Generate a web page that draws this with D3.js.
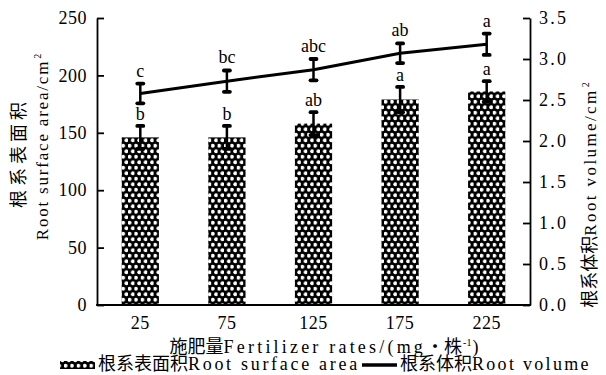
<!DOCTYPE html>
<html>
<head>
<meta charset="utf-8">
<script src="https://cdn.jsdelivr.net/npm/d3@7"></script>
<style>
  html, body { margin: 0; padding: 0; background: #fff; }
  svg { display: block; }
</style>
</head>
<body>
<svg id="chart" width="606" height="375"></svg>
<script>
// Fertilizer rate groups (mg per plant)
const categories = ["25", "75", "125", "175", "225"];
// Root surface area (cm²), bars on left axis
const surfaceArea = [146, 146, 158, 179, 186];
const surfaceErr = [10, 10, 10, 11, 9];
const surfaceLetters = ["b", "b", "ab", "a", "a"];
// Root volume, line on right axis
const volume = [2.58, 2.73, 2.87, 3.07, 3.18];
const volumeErr = [0.12, 0.13, 0.13, 0.12, 0.13];
const volumeLetters = ["c", "bc", "abc", "ab", "a"];
// Axis ticks
const leftTicks = [0, 50, 100, 150, 200, 250];
const rightTicks = [0, 0.5, 1.0, 1.5, 2.0, 2.5, 3.0, 3.5];

const SERIF = "Liberation Serif";
const CJK = "Noto Sans CJK SC";

const svg = d3.select("#chart");
const L = 97, R = 530, T = 18, B = 305;

const x = d3.scaleBand().domain(categories).range([L, R]).padding(0);
const yL = d3.scaleLinear().domain([0, 250]).range([B, T]);
const yR = d3.scaleLinear().domain([0, 3.5]).range([B, T]);
const barW = x.bandwidth() * 0.43;
const cx = d => x(d) + x.bandwidth() / 2;

// dotted fill for the bars
const defs = svg.append("defs");
const pat = defs.append("pattern").attr("id", "dots")
  .attr("patternUnits", "userSpaceOnUse").attr("width", 6.4).attr("height", 11);
pat.append("rect").attr("width", 6.4).attr("height", 11).attr("fill", "#000");
pat.append("circle").attr("cx", 1.6).attr("cy", 2.75).attr("r", 1.9).attr("fill", "#fff");
pat.append("circle").attr("cx", 4.8).attr("cy", 8.25).attr("r", 1.9).attr("fill", "#fff");

// bars
svg.append("g").selectAll("rect").data(categories).join("rect")
  .attr("x", d => cx(d) - barW / 2)
  .attr("y", (d, i) => yL(surfaceArea[i]))
  .attr("width", barW)
  .attr("height", (d, i) => B - yL(surfaceArea[i]))
  .attr("fill", "url(#dots)");

// error bar helper
function errBar(g, xc, yTop, yBot) {
  g.append("line").attr("x1", xc).attr("x2", xc).attr("y1", yTop).attr("y2", yBot)
    .attr("stroke", "#000").attr("stroke-width", 2.5);
  [yTop, yBot].forEach(yy => {
    g.append("line").attr("x1", xc - 3).attr("x2", xc + 3).attr("y1", yy).attr("y2", yy)
      .attr("stroke", "#000").attr("stroke-width", 3.8).attr("stroke-linecap", "round");
  });
}

const gErr = svg.append("g");
categories.forEach((c, i) => {
  errBar(gErr, cx(c), yL(surfaceArea[i] + surfaceErr[i]), yL(surfaceArea[i] - surfaceErr[i]));
});

// volume line
const line = d3.line().x((d, i) => cx(categories[i])).y(d => yR(d));
svg.append("path").datum(volume).attr("d", line)
  .attr("fill", "none").attr("stroke", "#000").attr("stroke-width", 3);
categories.forEach((c, i) => {
  errBar(gErr, cx(c), yR(volume[i] + volumeErr[i]), yR(volume[i] - volumeErr[i]));
});

// significance letters
const gLet = svg.append("g").attr("font-family", SERIF).attr("font-size", 18).attr("text-anchor", "middle");
categories.forEach((c, i) => {
  gLet.append("text").attr("x", cx(c)).attr("y", yL(surfaceArea[i] + surfaceErr[i]) - 6).text(surfaceLetters[i]);
  gLet.append("text").attr("x", cx(c)).attr("y", yR(volume[i] + volumeErr[i]) - 7).text(volumeLetters[i]);
});

// axes
const axL = d3.axisLeft(yL).tickValues(leftTicks).tickSizeInner(-7).tickSizeOuter(0).tickPadding(10);
const axR = d3.axisRight(yR).tickValues(rightTicks).tickSizeInner(-7).tickSizeOuter(0).tickPadding(9)
  .tickFormat(d3.format(".1f"));
const gL = svg.append("g").attr("transform", `translate(${L},0)`).call(axL);
const gR = svg.append("g").attr("transform", `translate(${R},0)`).call(axR);
[gL, gR].forEach(g => {
  g.attr("font-family", SERIF).attr("font-size", 18);
  g.selectAll("path.domain").attr("stroke", "#000").attr("stroke-width", 1.8);
  g.selectAll(".tick line").attr("stroke", "#000").attr("stroke-width", 1.8);
  g.selectAll(".tick text").attr("letter-spacing", 0.5).attr("fill", "#000");
});
gR.selectAll(".tick text").attr("letter-spacing", 2.2);
svg.append("line").attr("x1", L - 0.9).attr("x2", R + 0.9).attr("y1", B).attr("y2", B)
  .attr("stroke", "#000").attr("stroke-width", 1.8);

const axB = d3.axisBottom(x).tickSize(0).tickPadding(11);
const gB = svg.append("g").attr("transform", `translate(0,${B})`).call(axB)
  .attr("font-family", SERIF).attr("font-size", 18);
gB.select("path.domain").remove();
gB.selectAll(".tick text").attr("letter-spacing", 0.5).attr("fill", "#000");

// mixed-script text helper
function mixed(t, parts) {
  parts.forEach(p => {
    const s = t.append("tspan").text(p.t)
      .attr("font-family", p.cjk ? CJK : SERIF).attr("font-size", p.fs || 17);
    if (!p.cjk) s.attr("letter-spacing", p.ls == null ? 2 : p.ls);
    else if (p.ls != null) s.attr("letter-spacing", p.ls);
    if (p.dy) s.attr("dy", p.dy);
    if (p.dx) s.attr("dx", p.dx);
  });
  return t;
}

// x title
mixed(svg.append("text").attr("x", 325).attr("y", 353).attr("text-anchor", "middle"), [
  { t: "施肥量", cjk: true, fs: 18 },
  { t: "Fertilizer rates/(mg", fs: 18, ls: 3.2 },
  { t: "・株", cjk: true, fs: 18 },
  { t: "-1", fs: 10, ls: 0, dy: -7, dx: 1 },
  { t: ")", fs: 18, dy: 7, dx: 1 }
]);

// left title (two lines)
mixed(svg.append("text").attr("transform", "translate(25,153) rotate(-90)").attr("text-anchor", "middle"), [
  { t: "根系表面积", cjk: true, fs: 18, ls: 4 }
]);
mixed(svg.append("text").attr("transform", "translate(48,147) rotate(-90)").attr("text-anchor", "middle"), [
  { t: "Root surface area/cm", fs: 17, ls: 1.8 },
  { t: "2", fs: 10, ls: 0, dy: -7, dx: 1 }
]);

// right title
mixed(svg.append("text").attr("transform", "translate(596,195) rotate(-90)").attr("text-anchor", "middle"), [
  { t: "根系体积", cjk: true, fs: 18 },
  { t: "Root volume/cm", fs: 17, ls: 2.4 },
  { t: "2", fs: 10, ls: 0, dy: -7, dx: 1 }
]);

// legend
const lg = svg.append("g");
lg.append("rect").attr("x", 60).attr("y", 361).attr("width", 35).attr("height", 8).attr("fill", "url(#dots)");
mixed(lg.append("text").attr("x", 98).attr("y", 370), [
  { t: "根系表面积", cjk: true, fs: 18 },
  { t: "Root surface area", fs: 18, ls: 2.7 }
]);
lg.append("line").attr("x1", 362).attr("x2", 397).attr("y1", 365).attr("y2", 365)
  .attr("stroke", "#000").attr("stroke-width", 3.5);
mixed(lg.append("text").attr("x", 400).attr("y", 370), [
  { t: "根系体积", cjk: true, fs: 18 },
  { t: "Root volume", fs: 18, ls: 2.3 }
]);
</script>
</body>
</html>
